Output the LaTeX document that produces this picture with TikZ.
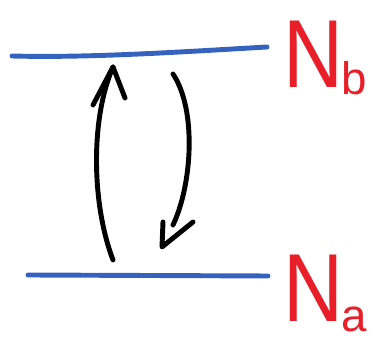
\documentclass[tikz,border=0pt]{standalone}
\usepackage{fontspec}
\setmainfont{Liberation Sans}
\usetikzlibrary{arrows.meta,calc}
\definecolor{levelblue}{RGB}{52,98,190}
\definecolor{labelred}{RGB}{232,30,40}
\newcommand{\lvlname}[2]{\scalebox{0.86}[1]{N}\kern-0.04cm\raisebox{#2}{\fontsize{26}{26}\selectfont #1}}
\begin{document}
\begin{tikzpicture}[x=0.02cm, y=-0.02cm, line cap=round, line join=round]
    \useasboundingbox (0,0) rectangle (373,340);
    \tikzset{
        level/.style={draw=levelblue, line width=2.8pt},
        trans/.style={draw=black, line width=2.8pt},
        lbl/.style={text=labelred, font=\fontsize{55}{55}\selectfont, inner sep=0pt}
    }

    % 上能级
    \coordinate (b1) at (12, 56);
    \coordinate (b2) at (267, 47);
    \draw[level] (b1) .. controls (90, 58) and (180, 52) .. (b2);
    \node[lbl, anchor=base west] (Nb) at (283, 88) {\lvlname{b}{-0.14cm}};

    % 下能级
    \coordinate (a1) at (28, 275);
    \coordinate (a2) at (268, 276);
    \draw[level] (a1) -- (a2);
    \node[lbl, anchor=base west] (Na) at (283, 322) {\lvlname{a}{-0.2cm}};

    % 向上的跃迁
    \draw[trans] (113, 260) .. controls (92, 205) and (90, 120) .. (113, 67);
    \draw[trans] (93, 105) -- (113, 67) -- (125, 98); % 箭头

    % 向下的跃迁
    \draw[trans] (173, 74) .. controls (197, 110) and (192, 185) .. (173, 225);
    \draw[trans] (163, 222) -- (162, 247) -- (193, 222); % 箭头
\end{tikzpicture}
\end{document}
